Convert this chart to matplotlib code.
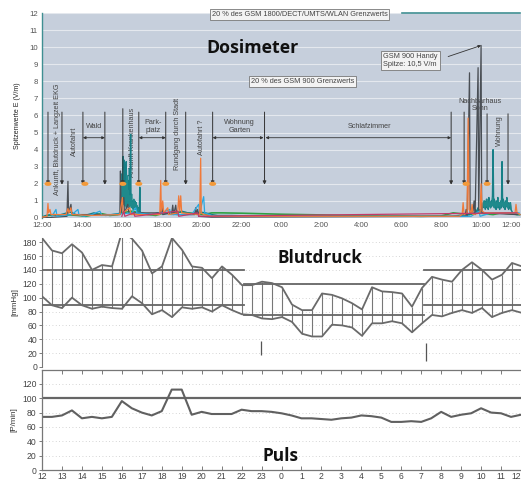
import matplotlib
matplotlib.use("Agg")
import matplotlib.pyplot as plt
from matplotlib.markers import MarkerStyle
from matplotlib.transforms import Affine2D
import numpy as np

# ---------------- DATA ----------------
# hours after 12:00 (0 .. 24)
top_tick_labels = ["12:00", "14:00", "16:00", "18:00", "20:00", "22:00", "0:00",
                   "2:00", "4:00", "6:00", "8:00", "10:00", "12:00"]
hour_labels = ["12", "13", "14", "15", "16", "17", "18", "19", "20", "21", "22", "23",
               "0", "1", "2", "3", "4", "5", "6", "7", "8", "9", "10", "11", "12"]

green_t = [0.0, 0.3, 0.6, 1.0, 1.4, 1.8, 2.2, 2.6, 3.0, 3.4, 3.8, 4.0, 4.5, 4.9, 5.3,
           5.7, 6.1, 6.5, 6.9, 7.3, 7.7, 8.1, 8.5, 9.0, 10.0, 11.0, 12.0, 13.0, 14.0,
           15.0, 16.0, 17.0, 18.0, 19.0, 20.0, 20.6, 21.0, 21.4, 21.8, 22.2, 22.6, 23.0,
           23.4, 23.9]
green_v = [0.05, 0.15, 0.2, 0.12, 0.18, 0.15, 0.1, 0.2, 0.25, 0.15, 0.2, 0.3, 0.4, 0.3,
           0.2, 0.15, 0.3, 0.25, 0.35, 0.3, 0.25, 0.2, 0.3, 0.3, 0.28, 0.25, 0.22, 0.2,
           0.18, 0.15, 0.15, 0.12, 0.12, 0.1, 0.12, 0.3, 0.25, 0.2, 0.3, 0.25, 0.2, 0.3,
           0.25, 0.2]

teal_t = [0.0, 0.2, 0.5, 0.8, 1.1, 1.4, 1.7, 2.0, 2.3, 2.6, 2.9, 3.2, 3.5, 3.8, 3.95,
          4.00, 4.02, 4.04, 4.06, 4.08, 4.10, 4.12, 4.14, 4.16, 4.18,
          4.20, 4.22, 4.24, 4.26, 4.28, 4.30, 4.32, 4.34, 4.36, 4.38,
          4.40, 4.42, 4.44, 4.46, 4.48, 4.50, 4.53, 4.56, 4.59, 4.62,
          4.65, 4.68, 4.71, 4.74, 4.77, 4.80, 4.83, 4.86, 4.88, 4.90,
          4.92, 4.95,
          5.2, 5.5, 5.8, 6.1, 6.4, 6.7, 7.0, 7.3, 7.6, 7.9,
          8.2, 8.5, 8.8, 9.5, 10.5, 11.5, 12.5, 13.5, 14.5, 15.5,
          16.5, 17.5, 18.5, 19.5, 20.5, 21.0, 21.4, 21.6,
          21.70, 21.73, 21.76, 21.79, 21.82, 21.85, 21.88, 21.91, 21.94, 21.97,
          22.00, 22.03, 22.06, 22.09, 22.12, 22.15, 22.18, 22.21, 22.24, 22.27,
          22.30, 22.33, 22.36, 22.39, 22.42, 22.45, 22.48, 22.51, 22.54, 22.57,
          22.60, 22.63, 22.66, 22.69, 22.72, 22.75, 22.78, 22.81, 22.84, 22.87,
          22.90, 22.93, 22.96, 22.99, 23.02, 23.05, 23.08, 23.11, 23.14, 23.17,
          23.20, 23.23, 23.26, 23.29, 23.32, 23.35, 23.38, 23.41, 23.44, 23.47,
          23.50, 23.6, 23.8, 23.95]
teal_v = [0.05, 0.15, 0.2, 0.15, 0.25, 0.35, 0.2, 0.15, 0.2, 0.3, 0.2, 0.15, 0.2, 0.25, 0.3,
          0.4, 2.6, 0.9, 3.6, 1.1, 3.4, 0.8, 3.1, 1.3, 2.4,
          0.9, 3.3, 1.0, 1.8, 0.7, 2.2, 0.9, 1.4, 0.8, 2.9,
          0.8, 1.5, 4.9, 0.9, 1.2, 0.7, 1.0, 0.6, 0.9, 0.7,
          1.0, 0.6, 0.8, 0.5, 0.7, 0.4, 0.6, 0.3, 0.5, 1.8,
          0.4, 0.3,
          0.25, 0.2, 0.3, 0.25, 0.35, 0.3, 0.4, 0.3, 0.25, 0.35,
          0.3, 0.2, 0.15, 0.15, 0.12, 0.1, 0.1, 0.1, 0.1, 0.1,
          0.1, 0.1, 0.1, 0.1, 0.1, 0.15, 0.2, 0.3,
          0.3, 0.5, 0.3, 0.4, 0.3, 0.6, 0.4, 0.3, 0.5, 0.3,
          0.5, 0.3, 0.6, 0.7, 0.9, 0.6, 1.0, 0.5, 0.8, 1.1,
          0.6, 0.9, 0.5, 1.2, 0.7, 0.9, 0.6, 1.0, 0.7, 1.3,
          4.0, 0.8, 1.1, 0.6, 0.9, 0.5, 1.0, 0.7, 1.2, 0.6,
          0.9, 0.5, 0.8, 1.0, 0.6, 3.3, 0.7, 1.1, 0.6, 0.9,
          0.5, 1.0, 0.7, 1.2, 0.6, 0.9, 0.5, 0.8, 0.6, 0.9,
          0.5, 0.25, 0.2, 0.2]

# second teal sensor channel (afternoon hospital cluster and morning cluster)
teal2a_t = [4.01, 4.03, 4.05, 4.07, 4.09, 4.11, 4.13, 4.15, 4.17, 4.19,
            4.21, 4.23, 4.25, 4.27, 4.29, 4.31, 4.33, 4.35, 4.37, 4.39,
            4.41, 4.43, 4.45, 4.47, 4.49, 4.51, 4.54, 4.57, 4.60, 4.63,
            4.66, 4.69, 4.72, 4.75, 4.78, 4.81, 4.84]
teal2a_v = [1.5, 0.7, 2.8, 0.9, 2.0, 0.8, 1.6, 0.7, 1.9, 1.0,
            1.4, 0.6, 2.5, 0.8, 1.2, 0.7, 1.6, 0.9, 1.1, 0.6,
            1.3, 0.8, 1.0, 0.7, 1.4, 0.6, 0.9, 0.5, 1.1, 0.6,
            0.8, 0.5, 0.9, 0.6, 0.7, 0.4, 0.5]
teal2b_t = [22.10, 22.14, 22.18, 22.22, 22.26, 22.30, 22.34, 22.38, 22.42, 22.46,
            22.50, 22.54, 22.58, 22.62, 22.66, 22.70, 22.74, 22.78, 22.82, 22.86,
            22.90, 22.94, 22.98, 23.02, 23.06, 23.10, 23.14, 23.18, 23.22, 23.26,
            23.30, 23.34, 23.38, 23.42, 23.46, 23.50]
teal2b_v = [0.7, 1.0, 0.6, 0.9, 0.7, 1.1, 0.6, 0.8, 1.0, 0.6,
            0.9, 0.7, 1.2, 0.8, 0.6, 1.0, 0.7, 0.9, 0.6, 1.1,
            0.7, 0.9, 0.6, 1.0, 0.8, 0.7, 1.0, 0.6, 0.9, 0.7,
            1.1, 0.6, 0.8, 0.7, 0.9, 0.5]

orange_t = [0.0, 0.25, 0.3, 0.33, 0.4, 0.45, 1.2, 1.3, 1.35, 1.45,
            1.5, 2.5, 3.9, 4.03, 4.06, 4.4, 4.45, 5.9, 5.95, 5.98,
            6.05, 6.1, 6.3, 6.35, 6.8, 6.85, 6.9, 6.95, 7.0, 7.9,
            7.95, 7.98, 8.1, 8.5, 20.9, 21.05, 21.1, 21.15, 21.3, 21.35,
            21.4, 21.5, 21.55, 21.6, 21.95, 22.0, 22.05, 22.2, 23.7, 23.75,
            23.8, 23.95]
orange_v = [0.05, 0.1, 0.85, 0.3, 0.5, 0.2, 0.2, 0.55, 0.3, 0.6,
            0.2, 0.15, 0.2, 1.2, 0.3, 0.6, 0.2, 0.2, 2.2, 0.4,
            1.0, 0.3, 0.6, 0.2, 0.3, 1.3, 0.4, 1.3, 0.3, 0.2,
            3.5, 0.3, 0.2, 0.1, 0.1, 0.2, 0.9, 0.2, 0.3, 5.85,
            0.5, 0.3, 0.8, 0.2, 0.3, 2.0, 0.4, 0.3, 0.3, 0.8,
            0.3, 0.2]

gray_t = [0.0, 1.25, 1.3, 1.33, 1.45, 1.5, 3.9, 3.93, 3.96, 4.1,
          4.13, 4.3, 4.35, 5.95, 6.0, 6.05, 6.5, 6.55, 6.6, 6.7,
          6.75, 7.65, 7.7, 7.75, 7.8, 7.85, 8.5, 21.2, 21.25, 21.3,
          21.42, 21.45, 21.6, 21.65, 21.7, 21.85, 21.88, 22.0, 22.03, 22.1,
          23.8]
gray_v = [0.0, 0.1, 2.15, 0.3, 0.8, 0.2, 0.2, 2.75, 0.4, 1.2,
          0.3, 0.8, 0.3, 0.3, 0.7, 0.2, 0.3, 0.75, 0.2, 0.75,
          0.2, 0.2, 0.6, 0.2, 0.5, 0.1, 0.05, 0.1, 0.5, 0.1,
          8.5, 0.3, 0.4, 1.0, 0.2, 8.8, 0.4, 10.1, 0.4, 0.3,
          0.2]

blue_t = [0.5, 0.7, 0.75, 1.5, 1.8, 1.85, 2.1, 2.5, 2.9, 3.0,
          4.5, 4.7, 4.75, 5.5, 6.0, 6.4, 6.45, 7.5, 7.85, 7.9,
          8.1, 8.15, 8.4, 8.6, 21.5, 21.9, 21.95, 22.5, 23.9]
blue_v = [0.1, 0.5, 0.1, 0.2, 0.5, 0.2, 0.1, 0.2, 0.4, 0.15,
          0.3, 0.6, 0.3, 0.2, 0.3, 0.5, 0.2, 0.2, 0.8, 0.3,
          1.25, 0.3, 0.2, 0.1, 0.1, 0.4, 0.1, 0.3, 0.3]

red_t = [4.0, 4.1, 4.15, 4.6, 4.65, 6.8, 6.85, 7.8, 7.85, 23.8]
red_v = [0.1, 0.4, 0.1, 0.3, 0.1, 0.4, 0.1, 0.3, 0.1, 0.3]

# annotations of the dosimeter panel
arrow_t = [0.3, 1.0, 2.05, 3.15, 4.05, 4.85, 6.2, 7.2, 8.55, 11.15, 20.5, 21.15, 22.3, 23.35]
arrow_top = [6.2, 6.2, 6.2, 6.2, 6.4, 6.2, 6.2, 6.2, 6.2, 6.2, 6.2, 6.2, 6.1, 6.1]
marker_t = [0.3, 2.15, 4.05, 4.85, 6.2, 8.55, 21.25, 22.3]
span_start = [2.05, 4.85, 8.55, 11.2]
span_end = [3.15, 6.2, 11.1, 20.5]
span_labels = ["Wald", "Park-\nplatz", "Wohnung\nGarten", "Schlafzimmer"]
span_label_t = [2.6, 5.55, 9.9, 16.4]
vert_labels = ["Ankunft, Blutdruck + Langzeit EKG", "Autofahrt", "Ankunft Krankenhaus",
               "Rundgang durch Stadt", "Autofahrt ?", "Wohnung"]
vert_label_t = [0.8, 1.65, 4.55, 6.8, 8.0, 22.9]
vert_label_y = [4.6, 4.5, 4.45, 4.95, 4.75, 5.1]

# blood pressure, every 30 min
bp_t = [i * 0.5 for i in range(49)]
systolic = [186, 168, 164, 177, 165, 140, 147, 145, 195, 185, 168, 135, 145, 186, 169, 145,
            143, 128, 145, 133, 118, 118, 123, 121,
            115, 90, 82, 82, 106, 104, 99, 92, 83, 115, 109, 108, 106, 87, 114, 130, 126,
            123, 140, 151, 140, 126, 133, 150, 145]
diastolic = [102, 89, 85, 100, 89, 84, 87, 85, 84, 102, 92, 76, 82, 72, 86, 84, 86, 80, 89,
             82, 76, 75, 70, 69,
             72, 65, 48, 44, 44, 61, 60, 57, 45, 63, 63, 66, 63, 50, 63, 75, 73, 78, 82,
             78, 85, 72, 78, 82, 78]
ref_start = [0, 0, 10.1, 10.1, 19.1, 19.1]
ref_end = [10.1, 10.1, 19.1, 19.1, 24, 24]
ref_val = [140, 90, 120, 75, 140, 90]
bp_marks_t = [10.95, 19.2]
bp_marks_lo = [17, 8]
bp_marks_hi = [37, 34]

# pulse
pulse_t = [i * 0.5 for i in range(49)]
pulse = [74, 74, 76, 83, 72, 74, 72, 74, 96, 86, 80, 76, 82, 112, 112, 77, 81, 78, 78, 78,
         84, 82, 82, 81, 79, 76, 72, 72, 71, 70, 72, 73, 76, 75, 73, 67, 67, 68, 67, 72,
         81, 74, 77, 79, 86, 80, 79, 74, 77]

# ---------------- FIGURE ----------------
W, H = 521, 482
fig = plt.figure(figsize=(W / 100, H / 100), dpi=100)
fig.patch.set_facecolor("white")
SANS = ["Liberation Sans", "DejaVu Sans"]
TITLE = ["Open Sans", "DejaVu Sans"]


def frac(x0, y0, x1, y1):
    return [x0 / W, 1 - y1 / H, (x1 - x0) / W, (y1 - y0) / H]


# ---- Dosimeter panel ----
ax1 = fig.add_axes(frac(42, 13, 521, 218))
ax1.set_facecolor("#c6cfdc")
ax1.set_xlim(0, 23.95)
ax1.set_ylim(0, 12)
ax1.set_yticks(range(0, 13))
ax1.grid(axis="y", color="#e4e8ee", lw=0.8)
ax1.set_axisbelow(True)
ax1.set_xticks(range(0, 25, 2))
ax1.set_xticklabels(top_tick_labels)
ax1.tick_params(length=0, labelsize=5.6, labelcolor="#555555", pad=3)
for lab in ax1.get_xticklabels() + ax1.get_yticklabels():
    lab.set_family(SANS)
ax1.get_xticklabels()[-1].set_horizontalalignment("right")
for s in ["right", "bottom", "top"]:
    ax1.spines[s].set_visible(False)
ax1.spines["left"].set_color("#3f8f92")
ax1.spines["left"].set_linewidth(1.0)
ax1.set_ylabel("Spitzenwerte E (V/m)", fontsize=5, family=SANS, color="#222222", labelpad=6)

ax1.plot(green_t, green_v, color="#2ea043", lw=1.2, zorder=3)
ax1.plot(teal_t, teal_v, color="#167f86", lw=1.0, zorder=4)
ax1.plot(teal2a_t, teal2a_v, color="#1f8a8c", lw=1.0, zorder=4)
ax1.plot(teal2b_t, teal2b_v, color="#1f8a8c", lw=1.0, zorder=4)
ax1.plot(gray_t, gray_v, color="#4a4f55", lw=0.9, zorder=5)
ax1.plot(blue_t, blue_v, color="#2aa8e0", lw=0.9, zorder=5)
ax1.plot(orange_t, orange_v, color="#f07a3a", lw=0.9, zorder=6)
ax1.plot(red_t, red_v, color="#c23a6a", lw=0.9, zorder=6)

# top limit line
ax1.plot([18.05, 23.95], [12, 12], color="#3f8f92", lw=1.2, clip_on=False, zorder=7)

ann_kw = dict(fontsize=5.2, family=SANS, color="#444444")
for t, top in zip(arrow_t, arrow_top):
    ax1.annotate("", xy=(t, 1.95), xytext=(t, top),
                 arrowprops=dict(arrowstyle="-|>", color="#333333", lw=0.7,
                                 mutation_scale=5, shrinkA=0, shrinkB=0), zorder=8)
ell = MarkerStyle("o", transform=Affine2D().scale(1.7, 1.0))
ax1.scatter(marker_t, [2.0] * len(marker_t), marker=ell, s=9, color="#f39a3a",
            edgecolors="none", zorder=9)
for a, b in zip(span_start, span_end):
    ax1.annotate("", xy=(a, 4.7), xytext=(b, 4.7),
                 arrowprops=dict(arrowstyle="<|-|>", color="#333333", lw=0.6,
                                 mutation_scale=4, shrinkA=0, shrinkB=0), zorder=8)
for lab, t in zip(span_labels, span_label_t):
    ax1.text(t, 5.35, lab, ha="center", va="center", linespacing=1.1, **ann_kw)
for lab, t, y in zip(vert_labels, vert_label_t, vert_label_y):
    ax1.text(t, y, lab, rotation=90, ha="center", va="center", **ann_kw)
ax1.text(21.95, 6.6, "Nachbarhaus\nSohn", ha="center", va="center", linespacing=1.0, **ann_kw)

box = dict(boxstyle="square,pad=0.25", fc="#f3f3f3", ec="#777777", lw=0.6)
ax1.text(12.9, 11.9, "20 % des GSM 1800/DECT/UMTS/WLAN Grenzwerts", ha="center",
         va="center", fontsize=5.3, family=SANS, color="#444444", bbox=box, zorder=10)
ax1.text(13.05, 8.0, "20 % des GSM 900 Grenzwerts", ha="center", va="center",
         fontsize=5.3, family=SANS, color="#444444", bbox=box, zorder=10)
ax1.text(17.1, 9.2, "GSM 900 Handy\nSpitze: 10,5 V/m", ha="left", va="center",
         fontsize=5.3, family=SANS, color="#444444", bbox=box, linespacing=1.2, zorder=10)
ax1.annotate("", xy=(22.0, 10.1), xytext=(20.35, 9.45),
             arrowprops=dict(arrowstyle="-|>", color="#333333", lw=0.6, mutation_scale=4,
                             shrinkA=0, shrinkB=0), zorder=10)

fig.text(252 / W, 1 - 48 / H, "Dosimeter", ha="center", va="center", fontsize=12.8,
         fontweight="bold", family=TITLE, color="#111111")

# ---- Blutdruck panel ----
ax2 = fig.add_axes(frac(42, 238, 521, 367))
ax2.set_xlim(0, 23.95)
ax2.set_ylim(0, 186)
ax2.set_yticks(range(0, 181, 20))
ax2.set_xticks([])
ax2.tick_params(axis="y", length=2, width=0.6, color="#666666", labelsize=6.2,
                labelcolor="#444444", pad=1.5)
for lab in ax2.get_yticklabels():
    lab.set_family(SANS)
for s in ["right", "top", "bottom"]:
    ax2.spines[s].set_visible(False)
ax2.spines["left"].set_color("#777777")
ax2.spines["left"].set_linewidth(0.8)
ax2.grid(axis="y", color="#c8c8c8", lw=0.6, ls=(0, (1, 3)))
ax2.set_ylabel("[mmHg]", fontsize=5.8, family=SANS, color="#333333", labelpad=3)

for a, b, v in zip(ref_start, ref_end, ref_val):
    ax2.plot([a, b], [v, v], color="#666666", lw=1.3, zorder=3)
ax2.vlines(bp_t, diastolic, systolic, color="#777777", lw=0.8, zorder=2)
ax2.plot(bp_t, systolic, color="#6a6a6a", lw=1.3, zorder=4)
ax2.plot(bp_t, diastolic, color="#6a6a6a", lw=1.3, zorder=4)
ax2.vlines(bp_marks_t, bp_marks_lo, bp_marks_hi, color="#555555", lw=0.9)

fig.text(320 / W, 1 - 258 / H, "Blutdruck", ha="center", va="center", fontsize=12.3,
         fontweight="bold", family=TITLE, color="#111111")

# ---- Puls panel ----
ax3 = fig.add_axes(frac(42, 369.5, 521, 470))
ax3.set_xlim(0, 23.95)
ax3.set_ylim(0, 140)
ax3.set_yticks(range(0, 121, 20))
ax3.set_xticks(range(0, 25))
ax3.set_xticklabels(hour_labels)
ax3.tick_params(axis="both", length=2.5, width=0.6, color="#666666", labelsize=6.2,
                labelcolor="#444444", pad=1.5, direction="out")
ax3.tick_params(axis="x", top=True, direction="in", length=3)
for lab in ax3.get_xticklabels() + ax3.get_yticklabels():
    lab.set_family(SANS)
ax3.get_xticklabels()[-1].set_horizontalalignment("right")
ax3.spines["right"].set_visible(False)
for s in ["left", "top", "bottom"]:
    ax3.spines[s].set_color("#777777")
    ax3.spines[s].set_linewidth(0.9)
ax3.grid(axis="y", color="#c8c8c8", lw=0.6, ls=(0, (1, 3)))
ax3.set_ylabel("[P/min]", fontsize=5.8, family=SANS, color="#333333", labelpad=3)
ax3.axhline(100, color="#666666", lw=1.6)
ax3.plot(pulse_t, pulse, color="#606060", lw=1.5)

fig.text(280 / W, 1 - 456 / H, "Puls", ha="center", va="center", fontsize=12.5,
         fontweight="bold", family=TITLE, color="#111111")

fig.savefig("out.png", dpi=100)
